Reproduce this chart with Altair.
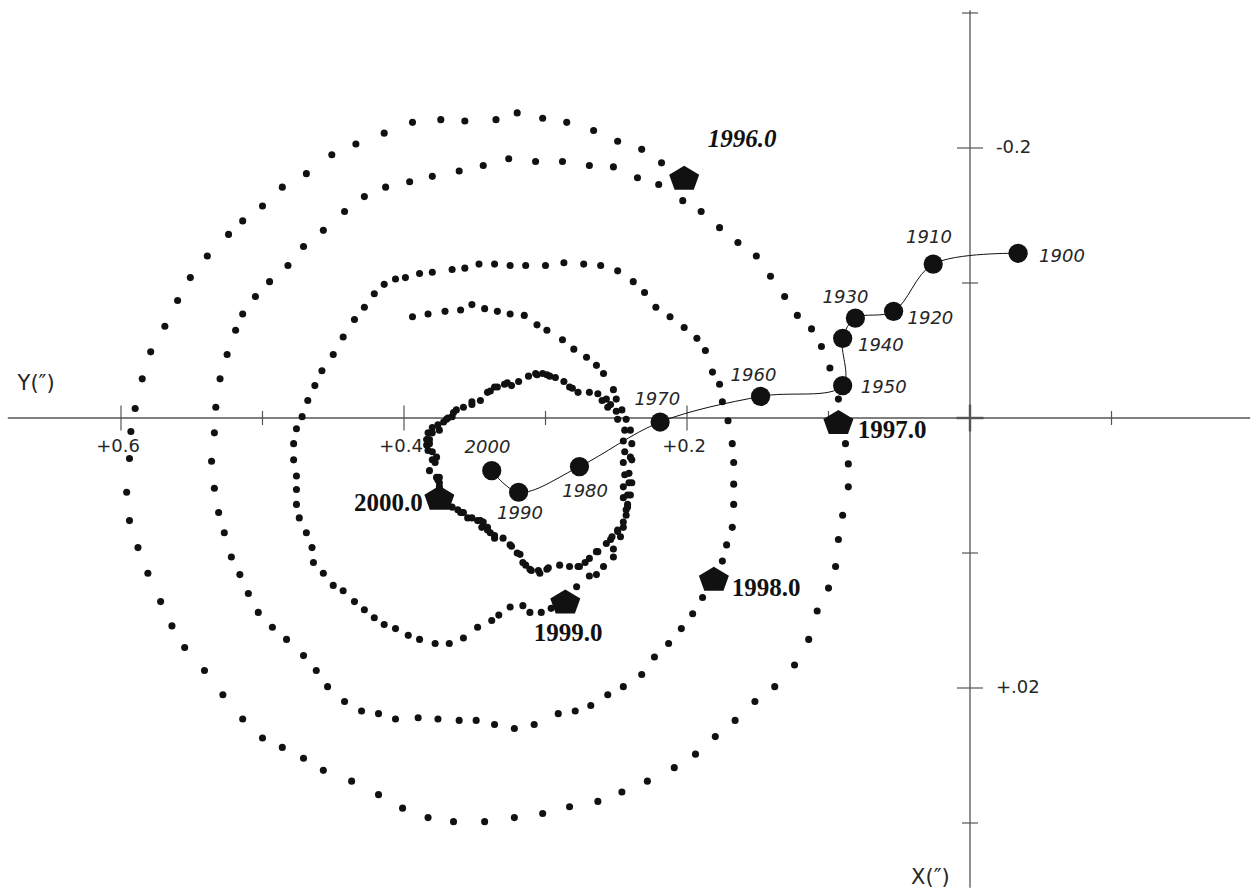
import altair as alt
import pandas as pd

# Pole positions 1996.0-2000.0, arcseconds, as (Y, X) pairs
ring_outer = [
    (0.203, -0.161), (0.190, -0.153), (0.177, -0.141), (0.164, -0.130), (0.151, -0.120),
    (0.141, -0.105), (0.131, -0.090), (0.122, -0.076), (0.112, -0.066), (0.105, -0.053),
    (0.099, -0.037), (0.093, -0.014), (0.088, 0.019), (0.086, 0.034), (0.086, 0.051),
    (0.090, 0.072), (0.093, 0.090), (0.095, 0.110), (0.100, 0.126), (0.108, 0.143),
    (0.114, 0.164), (0.124, 0.183), (0.138, 0.199), (0.152, 0.210), (0.166, 0.224),
    (0.180, 0.236), (0.194, 0.249), (0.209, 0.259), (0.228, 0.269), (0.246, 0.277),
    (0.263, 0.284), (0.283, 0.288), (0.302, 0.293), (0.322, 0.296), (0.343, 0.299),
    (0.365, 0.299), (0.383, 0.296), (0.401, 0.289), (0.418, 0.279), (0.437, 0.269),
    (0.457, 0.261), (0.471, 0.252), (0.486, 0.244), (0.500, 0.237), (0.514, 0.223),
    (0.528, 0.205), (0.541, 0.187), (0.555, 0.170), (0.564, 0.154), (0.572, 0.136),
    (0.581, 0.115), (0.588, 0.096), (0.594, 0.076), (0.596, 0.055), (0.594, 0.030),
    (0.593, 0.010), (0.590, -0.007), (0.585, -0.029), (0.579, -0.049), (0.569, -0.068),
    (0.560, -0.087), (0.551, -0.104), (0.539, -0.120), (0.524, -0.136), (0.514, -0.146),
    (0.500, -0.157), (0.486, -0.171), (0.469, -0.181), (0.451, -0.195), (0.434, -0.203),
    (0.414, -0.211), (0.394, -0.219), (0.374, -0.221), (0.357, -0.220), (0.335, -0.221),
    (0.320, -0.226), (0.302, -0.222), (0.285, -0.219), (0.266, -0.213), (0.249, -0.205),
    (0.232, -0.199), (0.218, -0.189),
]

ring_second = [
    (0.220, -0.173), (0.235, -0.178), (0.252, -0.186), (0.269, -0.187), (0.288, -0.190),
    (0.307, -0.190), (0.326, -0.192), (0.344, -0.187), (0.361, -0.183), (0.380, -0.179),
    (0.396, -0.175), (0.413, -0.171), (0.428, -0.164), (0.442, -0.153), (0.457, -0.139),
    (0.471, -0.127), (0.482, -0.113), (0.495, -0.101), (0.505, -0.090), (0.514, -0.077),
    (0.519, -0.065), (0.525, -0.047), (0.530, -0.029), (0.533, -0.008), (0.534, 0.011),
    (0.536, 0.032), (0.534, 0.052), (0.531, 0.070), (0.527, 0.085), (0.522, 0.103),
    (0.516, 0.116), (0.510, 0.130), (0.503, 0.144), (0.493, 0.155), (0.483, 0.164),
    (0.471, 0.176), (0.462, 0.187), (0.454, 0.199), (0.442, 0.210), (0.430, 0.217),
    (0.418, 0.219), (0.406, 0.223), (0.390, 0.222), (0.376, 0.223), (0.361, 0.224),
    (0.349, 0.224), (0.336, 0.227), (0.322, 0.230), (0.308, 0.227), (0.291, 0.219),
    (0.279, 0.217), (0.268, 0.213), (0.256, 0.205), (0.245, 0.199), (0.232, 0.190),
    (0.223, 0.177), (0.213, 0.167), (0.204, 0.156), (0.196, 0.145), (0.189, 0.133),
    (0.175, 0.106), (0.172, 0.094), (0.168, 0.081), (0.167, 0.064), (0.167, 0.049),
    (0.167, 0.033), (0.168, 0.019), (0.171, 0.002), (0.175, -0.012), (0.177, -0.025),
    (0.182, -0.034), (0.187, -0.050), (0.193, -0.059), (0.202, -0.067), (0.212, -0.075),
    (0.222, -0.082), (0.230, -0.093), (0.238, -0.101), (0.249, -0.109), (0.261, -0.113),
    (0.273, -0.114), (0.287, -0.115), (0.300, -0.113), (0.314, -0.113), (0.325, -0.113),
    (0.336, -0.114),
]

ring_third = [
    (0.347, -0.114), (0.357, -0.111), (0.366, -0.110), (0.380, -0.108), (0.389, -0.107),
    (0.399, -0.104), (0.406, -0.103), (0.414, -0.099), (0.421, -0.092), (0.428, -0.082),
    (0.435, -0.073), (0.443, -0.060), (0.450, -0.047), (0.458, -0.035), (0.463, -0.024),
    (0.468, -0.013), (0.472, -0.001), (0.476, 0.008), (0.478, 0.019), (0.478, 0.031),
    (0.476, 0.043), (0.476, 0.053), (0.476, 0.064), (0.474, 0.074), (0.469, 0.085),
    (0.465, 0.096), (0.464, 0.107), (0.457, 0.115), (0.450, 0.124), (0.443, 0.128),
    (0.435, 0.136), (0.428, 0.142), (0.421, 0.148), (0.414, 0.153), (0.406, 0.156),
    (0.397, 0.161), (0.389, 0.164), (0.378, 0.167), (0.368, 0.167), (0.358, 0.163),
    (0.348, 0.155), (0.338, 0.150), (0.333, 0.146), (0.325, 0.140), (0.316, 0.139),
    (0.311, 0.144), (0.303, 0.144), (0.296, 0.141), (0.278, 0.125), (0.269, 0.117),
    (0.264, 0.116), (0.259, 0.110), (0.252, 0.103), (0.252, 0.097), (0.247, 0.088),
    (0.245, 0.081), (0.243, 0.072),
]

inner_arc = [
    (0.394, -0.075), (0.383, -0.077), (0.371, -0.079), (0.360, -0.080), (0.352, -0.084),
    (0.343, -0.081), (0.334, -0.079), (0.325, -0.077), (0.315, -0.076), (0.306, -0.069),
    (0.299, -0.065), (0.288, -0.058), (0.280, -0.051), (0.271, -0.045), (0.264, -0.039),
    (0.259, -0.033), (0.252, -0.021), (0.250, -0.014), (0.246, -0.006), (0.243, 0.001),
    (0.240, 0.009), (0.239, 0.019), (0.240, 0.029), (0.241, 0.041), (0.239, 0.048),
    (0.240, 0.057), (0.242, 0.066),
]

inner_loop = [
    (0.339, -0.020), (0.334, -0.023), (0.329, -0.025), (0.324, -0.024), (0.319, -0.027),
    (0.312, -0.031), (0.307, -0.033), (0.302, -0.033), (0.297, -0.031), (0.293, -0.030),
    (0.287, -0.027), (0.283, -0.023), (0.277, -0.019), (0.269, -0.019), (0.263, -0.018),
    (0.257, -0.014), (0.256, -0.008), (0.250, -0.005), (0.249, 0.001), (0.244, 0.009),
    (0.245, 0.017), (0.244, 0.025), (0.245, 0.033), (0.244, 0.042), (0.245, 0.051),
    (0.245, 0.059), (0.243, 0.068), (0.245, 0.077), (0.249, 0.084), (0.254, 0.090),
    (0.257, 0.093), (0.264, 0.099), (0.269, 0.104), (0.276, 0.110), (0.283, 0.110),
    (0.290, 0.109), (0.299, 0.112), (0.305, 0.113), (0.311, 0.112), (0.316, 0.107),
    (0.320, 0.100), (0.325, 0.094), (0.330, 0.089), (0.336, 0.087), (0.339, 0.085),
    (0.345, 0.081), (0.348, 0.076), (0.355, 0.074), (0.360, 0.070), (0.366, 0.066),
    (0.375, 0.048), (0.377, 0.044), (0.382, 0.039), (0.380, 0.031), (0.383, 0.024),
    (0.382, 0.016), (0.380, 0.011), (0.375, 0.009), (0.370, 0.001), (0.366, -0.001),
    (0.363, -0.006), (0.358, -0.008), (0.352, -0.012), (0.346, -0.013),
    (0.369, 0.000), (0.372, 0.003), (0.376, 0.005), (0.380, 0.007), (0.384, 0.020),
    (0.378, 0.033), (0.376, 0.046), (0.375, 0.051), (0.362, 0.068), (0.358, 0.070),
    (0.344, 0.077), (0.341, 0.083), (0.318, 0.101), (0.314, 0.109), (0.310, 0.113),
    (0.304, 0.115), (0.272, 0.107), (0.253, 0.088), (0.242, 0.064), (0.241, 0.048),
    (0.382, 0.019), (0.377, 0.029), (0.375, 0.044), (0.359, 0.070), (0.352, 0.074),
    (0.346, 0.076), (0.341, 0.081), (0.336, 0.089), (0.324, 0.095), (0.298, 0.111),
    (0.277, 0.110), (0.263, 0.099), (0.249, 0.083), (0.242, 0.057), (0.239, 0.031),
    (0.341, -0.019), (0.352, -0.010), (0.365, -0.004), (0.383, 0.011), (0.384, 0.016),
    (0.380, 0.025), (0.336, -0.023), (0.327, -0.026), (0.306, -0.032), (0.299, -0.032),
    (0.281, -0.022), (0.260, -0.013), (0.254, -0.010),
]

# Epoch markers
epochs = ["1996.0", "1997.0", "1998.0", "1999.0", "2000.0"]
epoch_y = [0.202, 0.093, 0.181, 0.286, 0.375]
epoch_x = [-0.178, 0.003, 0.119, 0.136, 0.059]
epoch_label_y = [0.161, 0.055, 0.144, 0.284, 0.411]
epoch_label_x = [-0.207, 0.009, 0.126, 0.159, 0.063]

# Mean pole by decade
decades = [1900, 1910, 1920, 1930, 1940, 1950, 1960, 1970, 1980, 1990, 2000]
mean_y = [-0.034, 0.026, 0.054, 0.081, 0.090, 0.090, 0.148, 0.219, 0.276, 0.319, 0.338]
mean_x = [-0.122, -0.114, -0.079, -0.074, -0.059, -0.024, -0.016, 0.003, 0.036, 0.055, 0.039]
decade_label_y = [-0.065, 0.029, 0.028, 0.088, 0.063, 0.061, 0.153, 0.221, 0.272, 0.318, 0.341]
decade_label_x = [-0.119, -0.133, -0.073, -0.089, -0.053, -0.022, -0.031, -0.013, 0.055, 0.071, 0.022]

# Axes
y_ticks_long = [0.6, 0.4, 0.2]
y_ticks_short = [0.5, 0.3, 0.1, -0.1]
y_tick_labels = ["+0.6", "+0.4", "+0.2"]
x_ticks_long = [-0.2, 0.2]
x_ticks_short = [-0.3, -0.1, 0.1, 0.3]
x_tick_labels = ["-0.2", "+.02"]
y_axis_span = (0.680, -0.198)
x_axis_span = (-0.302, 0.348)

W, H = 1253, 893
hs = alt.Scale(domain=[0.68551, -0.2], nice=False, zero=False)
vs = alt.Scale(domain=[0.35185, -0.30963], nice=False, zero=False)

def enc_xy(xcol="Y", ycol="X"):
    return dict(
        x=alt.X(f"{xcol}:Q", scale=hs, axis=None),
        y=alt.Y(f"{ycol}:Q", scale=vs, axis=None),
    )

def pairs_df(pairs, name):
    d = pd.DataFrame(pairs, columns=["Y", "X"])
    d["ring"] = name
    return d

spiral = pd.concat([
    pairs_df(ring_outer, "outer"),
    pairs_df(ring_second, "second"),
    pairs_df(ring_third, "third"),
    pairs_df(inner_arc, "arc"),
    pairs_df(inner_loop, "loop"),
], ignore_index=True)

AXIS_COLOR = "#555555"
INK = "#111111"
LABEL = "#262626"
SANS = "DejaVu Sans"

h_axis = alt.Chart(pd.DataFrame({"Y1": [y_axis_span[0]], "Y2": [y_axis_span[1]], "X": [0.0]})).mark_rule(
    color=AXIS_COLOR, strokeWidth=1.3
).encode(x=alt.X("Y1:Q", scale=hs, axis=None), x2="Y2:Q", y=alt.Y("X:Q", scale=vs, axis=None))

v_axis = alt.Chart(pd.DataFrame({"X1": [x_axis_span[0]], "X2": [x_axis_span[1]], "Y": [0.0]})).mark_rule(
    color=AXIS_COLOR, strokeWidth=1.3
).encode(x=alt.X("Y:Q", scale=hs, axis=None), y=alt.Y("X1:Q", scale=vs, axis=None), y2="X2:Q")

VTICK = "M0,-1L0,1"
HTICK = "M-1,0L1,0"

def tick_layer(df, shape, size, width=1.2):
    return alt.Chart(df).mark_point(
        shape=shape, filled=False, color=AXIS_COLOR, strokeWidth=width, size=size, opacity=1
    ).encode(**enc_xy())

h_long = tick_layer(pd.DataFrame({"Y": y_ticks_long, "X": 0.0}), VTICK, 625)
h_short = tick_layer(pd.DataFrame({"Y": y_ticks_short, "X": 0.0}), VTICK, 196)
v_long = tick_layer(pd.DataFrame({"Y": 0.0, "X": x_ticks_long}), HTICK, 676)
v_short = tick_layer(pd.DataFrame({"Y": 0.0, "X": x_ticks_short}), HTICK, 256)
origin = pd.DataFrame({"Y": [0.0], "X": [0.0]})
o_v = tick_layer(origin, VTICK, 729, 2.4)
o_h = tick_layer(origin, HTICK, 729, 2.4)

h_labels = alt.Chart(pd.DataFrame({"Y": y_ticks_long, "X": 0.0, "t": y_tick_labels})).mark_text(
    font=SANS, fontSize=18, color=LABEL, dx=-3, dy=29, align="center", baseline="middle"
).encode(text="t:N", **enc_xy())

v_labels = alt.Chart(pd.DataFrame({"Y": 0.0, "X": x_ticks_long, "t": x_tick_labels})).mark_text(
    font=SANS, fontSize=18, color=LABEL, dx=26, align="left", baseline="middle"
).encode(text="t:N", **enc_xy())

titles = alt.Chart(pd.DataFrame({"Y": [0.660, 0.028], "X": [-0.025, 0.341], "t": ["Y(\u2033)", "X(\u2033)"]})).mark_text(
    font=SANS, fontSize=21, color=LABEL, align="center", baseline="middle"
).encode(text="t:N", **enc_xy())

dots = alt.Chart(spiral).mark_circle(size=50, color=INK, opacity=1).encode(**enc_xy())

mean_df = pd.DataFrame({"Y": mean_y, "X": mean_x, "year": decades})
mean_line = alt.Chart(mean_df).mark_line(
    interpolate="catmull-rom", color=INK, strokeWidth=1
).encode(order=alt.Order("year:Q"), **enc_xy())
mean_pts = alt.Chart(mean_df).mark_circle(size=370, color=INK, opacity=1).encode(**enc_xy())

dec_labels = alt.Chart(pd.DataFrame({"Y": decade_label_y, "X": decade_label_x, "t": [str(d) for d in decades]})).mark_text(
    font=SANS, fontSize=18, fontStyle="italic", color=LABEL, align="center", baseline="middle"
).encode(text="t:N", **enc_xy())

PENTAGON = "M0,-0.8L1,-0.2L0.64,0.8L-0.64,0.8L-1,-0.2Z"
ep_df = pd.DataFrame({"Y": epoch_y, "X": epoch_x, "t": epochs})
ep_marks = alt.Chart(ep_df).mark_point(
    shape=PENTAGON, filled=True, color=INK, size=900, opacity=1
).encode(**enc_xy())

lab_df = pd.DataFrame({"Y": epoch_label_y, "X": epoch_label_x, "t": epochs})
ep_labels_plain = alt.Chart(lab_df).transform_filter(alt.datum.t != "1996.0").mark_text(
    font="Liberation Serif", fontSize=25, fontWeight="bold", color=INK, align="center", baseline="middle"
).encode(text="t:N", **enc_xy())
ep_labels_italic = alt.Chart(lab_df).transform_filter(alt.datum.t == "1996.0").mark_text(
    font="Liberation Serif", fontSize=25, fontWeight="bold", fontStyle="italic", color=INK,
    align="center", baseline="middle"
).encode(text="t:N", **enc_xy())

chart = alt.layer(
    h_axis, v_axis, h_long, h_short, v_long, v_short, o_v, o_h,
    h_labels, v_labels, titles,
    dots, mean_line, mean_pts, dec_labels,
    ep_marks, ep_labels_plain, ep_labels_italic,
).properties(
    width=W, height=H, padding=0, autosize="none", background="white"
).configure_view(stroke=None)

chart.save("out.html", embed_options={"renderer": "svg", "actions": False})
